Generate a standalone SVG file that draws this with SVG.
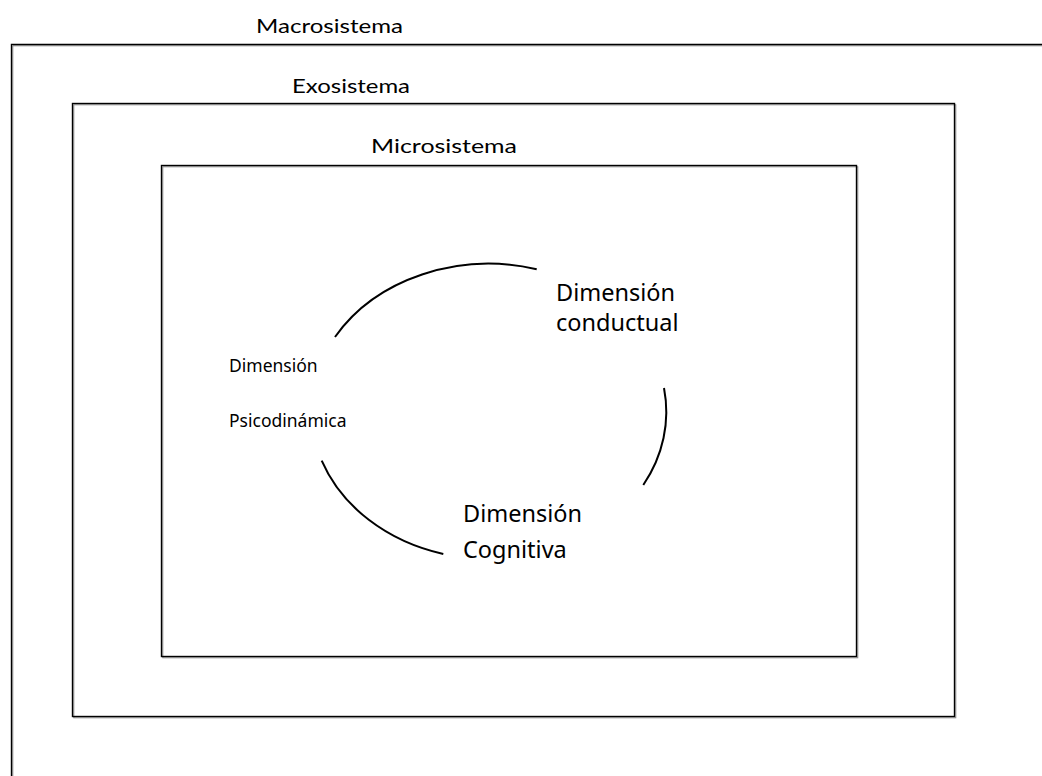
<svg xmlns="http://www.w3.org/2000/svg" width="1042" height="776" viewBox="0 0 1042 776">
  <style>
    .box { fill: none; stroke: #000; stroke-width: 1.4; }
    .shadow { fill: none; stroke: #8a8a8a; stroke-width: 1; }
    .lbl { font-family: Lato, "Open Sans", "Liberation Sans", sans-serif; font-size: 20px; fill: #000; }
    .dim { font-family: "Noto Sans", "DejaVu Sans", sans-serif; fill: #000; }
    .arc { fill: none; stroke: #000; stroke-width: 2; }
  </style>
  <rect x="0" y="0" width="1042" height="776" fill="#fff"/>
  <g id="macrosistema">
    <path class="shadow" d="M1043,45.8 H12.8 V777"/>
    <path class="box" d="M1043,44.5 H11.5 V777"/>
    <text class="lbl" x="256" y="32.5" textLength="147" lengthAdjust="spacingAndGlyphs">Macrosistema</text>
  </g>
  <g id="exosistema">
    <rect class="shadow" x="73.8" y="104.8" width="882" height="613"/>
    <rect class="box" x="72.5" y="103.5" width="882" height="613"/>
    <text class="lbl" x="292" y="92.5" textLength="118" lengthAdjust="spacingAndGlyphs">Exosistema</text>
  </g>
  <g id="microsistema">
    <rect class="shadow" x="162.8" y="166.8" width="695" height="491"/>
    <rect class="box" x="161.5" y="165.5" width="695" height="491"/>
    <text class="lbl" x="371" y="152.5" textLength="146" lengthAdjust="spacingAndGlyphs">Microsistema</text>
  </g>
  <g id="dim-psicodinamica">
    <text class="dim" font-size="17.5" x="229" y="371.5">Dimensión</text>
    <text class="dim" font-size="17.5" x="229" y="427">Psicodinámica</text>
  </g>
  <g id="dim-conductual">
    <text class="dim" font-size="23.5" x="556" y="300.5">Dimensión</text>
    <text class="dim" font-size="23.5" x="556" y="331">conductual</text>
  </g>
  <g id="dim-cognitiva">
    <text class="dim" font-size="23.5" x="463" y="522">Dimensión</text>
    <text class="dim" font-size="23.5" x="463" y="558">Cognitiva</text>
  </g>
  <g id="connectors">
    <path class="arc" d="M335,337 A178.5,149 0 0 1 536.7,269.3"/>
    <path class="arc" d="M664,388 A178.5,149 0 0 1 643.3,485"/>
    <path class="arc" d="M321.7,460.7 A178.5,149 0 0 0 443.3,554"/>
  </g>
</svg>
